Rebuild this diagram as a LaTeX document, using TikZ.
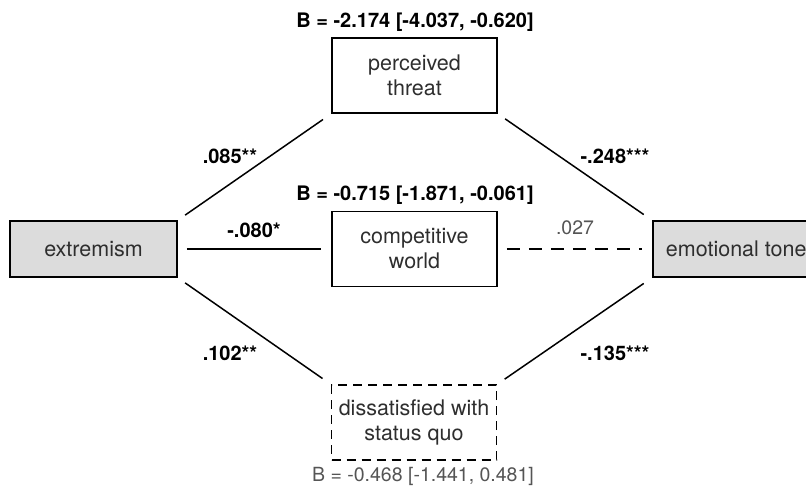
\documentclass[tikz,border=0pt]{standalone}
\usepackage{fontspec}
\setmainfont{TeX Gyre Heros}
\usetikzlibrary{positioning}
\definecolor{boxgrey}{HTML}{DCDCDC}
\definecolor{txtgrey}{HTML}{2E2E2E}
\definecolor{softgrey}{HTML}{555555}

\begin{document}
\begin{tikzpicture}[x=1pt,y=-1pt,
	every node/.style={font=\fontsize{21.5}{25}\selectfont},
	var/.style={draw, line width=1.5pt, fill=boxgrey, text=txtgrey, minimum width=167pt, minimum height=56pt, inner sep=0pt},
	med/.style={draw, line width=1.5pt, text=txtgrey, align=center, minimum width=165pt, minimum height=75pt, inner sep=0pt},
	link/.style={line width=1.5pt, shorten <=9pt, shorten >=10pt},
	coef/.style={font=\fontsize{20}{24}\selectfont\bfseries},
	weak/.style={font=\fontsize{19.5}{24}\selectfont, text=softgrey}]
	\useasboundingbox (0,0) rectangle (806,489);

	\node[var] (ext) at (93.5,249) {extremism};
	\node[var, anchor=west] (emo) at (652,249) {emotional tone};

	\node[med] (threat) at (414.5,75.5) {perceived\\threat};
	\node[med] (world) at (414.5,249) {competitive\\world};
	\node[med, dash pattern=on 9pt off 6pt] (quo) at (414,422.5) {dissatisfied with\\status quo};

	\node[coef] (bthreat) at (415,22) {B = -2.174 [-4.037, -0.620]};
	\node[coef] (bworld) at (415,195) {B = -0.715 [-1.871, -0.061]};
	\node[weak] (bquo) at (423,476) {B = -0.468 [-1.441, 0.481]};

	\path [link] (ext.north east) edge (threat.south west);
	\path [link] (threat.south east) edge (emo.north west);
	\path [link] (ext.east) edge (world.west);
	\path [link, dash pattern=on 13pt off 9pt] (world.east) edge (emo.west);
	\path [link] (ext.south east) edge (quo.north west);
	\path [link] (quo.north east) edge (emo.south west);

	\node[coef] (a1) at (230,156) {.085**};
	\node[coef] (b1) at (615,156) {-.248***};
	\node[coef] (a2) at (254,230) {-.080*};
	\node[weak] (b2) at (575,228) {.027};
	\node[coef] (a3) at (230,353) {.102**};
	\node[coef] (b3) at (615,353) {-.135***};
\end{tikzpicture}
\end{document}
